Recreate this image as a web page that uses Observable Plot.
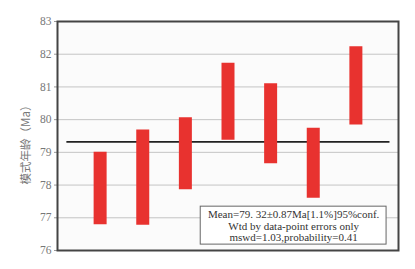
<!DOCTYPE html>
<html>
<head>
<meta charset="utf-8">
<script src="https://cdn.jsdelivr.net/npm/d3@7"></script>
<script src="https://cdn.jsdelivr.net/npm/@observablehq/plot@0.6"></script>
<style>
  html, body { margin: 0; padding: 0; background: #fff; }
</style>
</head>
<body>
<div id="chart"></div>
<script>
// Data
const samples = [1, 2, 3, 4, 5, 6, 7];
const lows  = [76.79, 76.77, 77.86, 79.37, 78.65, 77.60, 79.84];
const highs = [79.00, 79.68, 80.06, 81.72, 81.10, 79.74, 82.23];
const meanAge = 79.32;
const yTicks = [76, 77, 78, 79, 80, 81, 82, 83];
const gridTicks = [77, 78, 79, 80, 81, 82];
const yLabel = "模式年龄（Ma）";
const statLines = [
  "Mean=79. 32±0.87Ma[1.1%]95%conf.",
  "Wtd by data-point errors only",
  "mswd=1.03,probability=0.41"
];

const rows = samples.map((s, i) => ({x: s, lo: lows[i], hi: highs[i]}));

const chart = Plot.plot({
  width: 415,
  height: 269,
  marginLeft: 57,
  marginRight: 17,
  marginTop: 21,
  marginBottom: 19,
  style: {fontFamily: "'Liberation Serif', serif", fontSize: "11px", background: "#fff"},
  x: {domain: [0, 8], axis: null},
  y: {domain: [76, 83], axis: null},
  marks: [
    Plot.frame({fill: "#fbfbfb", stroke: null}),
    Plot.gridY(gridTicks, {stroke: "#c4c4c4", strokeOpacity: 1, strokeWidth: 1}),
    Plot.axisY(yTicks, {
      tickSize: 3, tickPadding: 3, stroke: "#999",
      color: "#777", fontSize: 11.5, fontFamily: "'Liberation Serif', serif",
      tickFormat: d => String(d),
      label: null
    }),
    Plot.ruleY([meanAge], {x1: 0.22, x2: 7.8, stroke: "#222", strokeWidth: 1.6}),
    Plot.ruleX(rows, {x: "x", y1: "lo", y2: "hi", stroke: "#e8322f", strokeWidth: 13}),
    Plot.rect([0], {x1: 3.36, x2: 7.72, y1: 76.18, y2: 77.34, fill: "#fff", stroke: "#666", strokeWidth: 1}),
    Plot.text([statLines.join("\n")], {
      x: 5.54, y: 76.75, text: d => d, fill: "#333",
      fontSize: 11, lineHeight: 1.05, textAnchor: "middle",
      fontFamily: "'Liberation Serif', serif"
    }),
    Plot.text([yLabel], {
      frameAnchor: "left", text: d => d, rotate: -90, dx: -31, dy: 6,
      textAnchor: "middle",
      fill: "#777", fontSize: 11.5, fontFamily: "'Noto Sans CJK SC', sans-serif"
    }),
    Plot.frame({stroke: "#444", strokeWidth: 2})
  ]
});
document.getElementById("chart").appendChild(chart);
</script>
</body>
</html>
